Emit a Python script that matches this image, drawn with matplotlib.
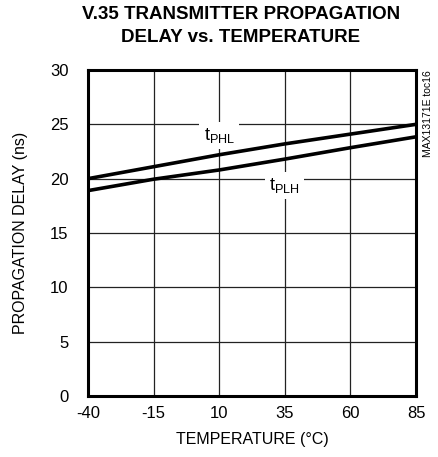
import matplotlib
matplotlib.use("Agg")
from matplotlib import pyplot as plt
from matplotlib import font_manager

temps = [-40, -15, 10, 35, 60, 85]
t_phl = [20.0, 21.1, 22.2, 23.2, 24.1, 25.0]
t_plh = [18.9, 19.95, 20.8, 21.8, 22.85, 23.85]
x_ticks = [-40, -15, 10, 35, 60, 85]
y_ticks = [0, 5, 10, 15, 20, 25, 30]

names = {f.name for f in font_manager.fontManager.ttflist}
fam = ['Liberation Sans Narrow'] if 'Liberation Sans Narrow' in names else []
plt.rcParams['font.family'] = fam + ['Liberation Sans', 'DejaVu Sans']

fig = plt.figure(figsize=(4.38, 4.57), dpi=100)
ax = fig.add_axes([88/438, 1 - 396/457, 328/438, 326/457])

ax.plot(temps, t_phl, color='black', lw=2.6, solid_capstyle='butt', zorder=3)
ax.plot(temps, t_plh, color='black', lw=2.6, solid_capstyle='butt', zorder=3)

ax.set_xlim(-40, 85)
ax.set_ylim(0, 30)
ax.set_xticks(x_ticks)
ax.set_yticks(y_ticks)
ax.set_xticklabels([str(t) for t in x_ticks], fontsize=12)
ax.set_yticklabels([str(t) for t in y_ticks], fontsize=12)
ax.tick_params(axis='y', length=0, pad=14)
ax.tick_params(axis='x', length=0, pad=7)
ax.grid(True, color='#222222', lw=0.9)
for s in ax.spines.values():
    s.set_linewidth(2.2)

bbox = dict(facecolor='white', edgecolor='none', pad=3)
ax.text(10, 24.0, r'$\mathregular{t_{PHL}}$', fontsize=13, ha='center', va='center', bbox=bbox, zorder=4)
ax.text(35, 19.4, r'$\mathregular{t_{PLH}}$', fontsize=13, ha='center', va='center', bbox=bbox, zorder=4)

ax.set_xlabel('TEMPERATURE (°C)', fontsize=11.5, labelpad=8)
ax.set_ylabel('PROPAGATION DELAY (ns)', fontsize=11.5, labelpad=16)

fig.text(0.55, 1 - 6/457, 'V.35 TRANSMITTER PROPAGATION\nDELAY vs. TEMPERATURE', ha='center', va='top',
         fontsize=13.5, fontweight='bold', linespacing=1.45)
fig.text(428/438, 1 - 70/457, 'MAX13171E toc16', rotation=90, ha='center', va='top', fontsize=7.5)

plt.savefig('out.png', dpi=100)
